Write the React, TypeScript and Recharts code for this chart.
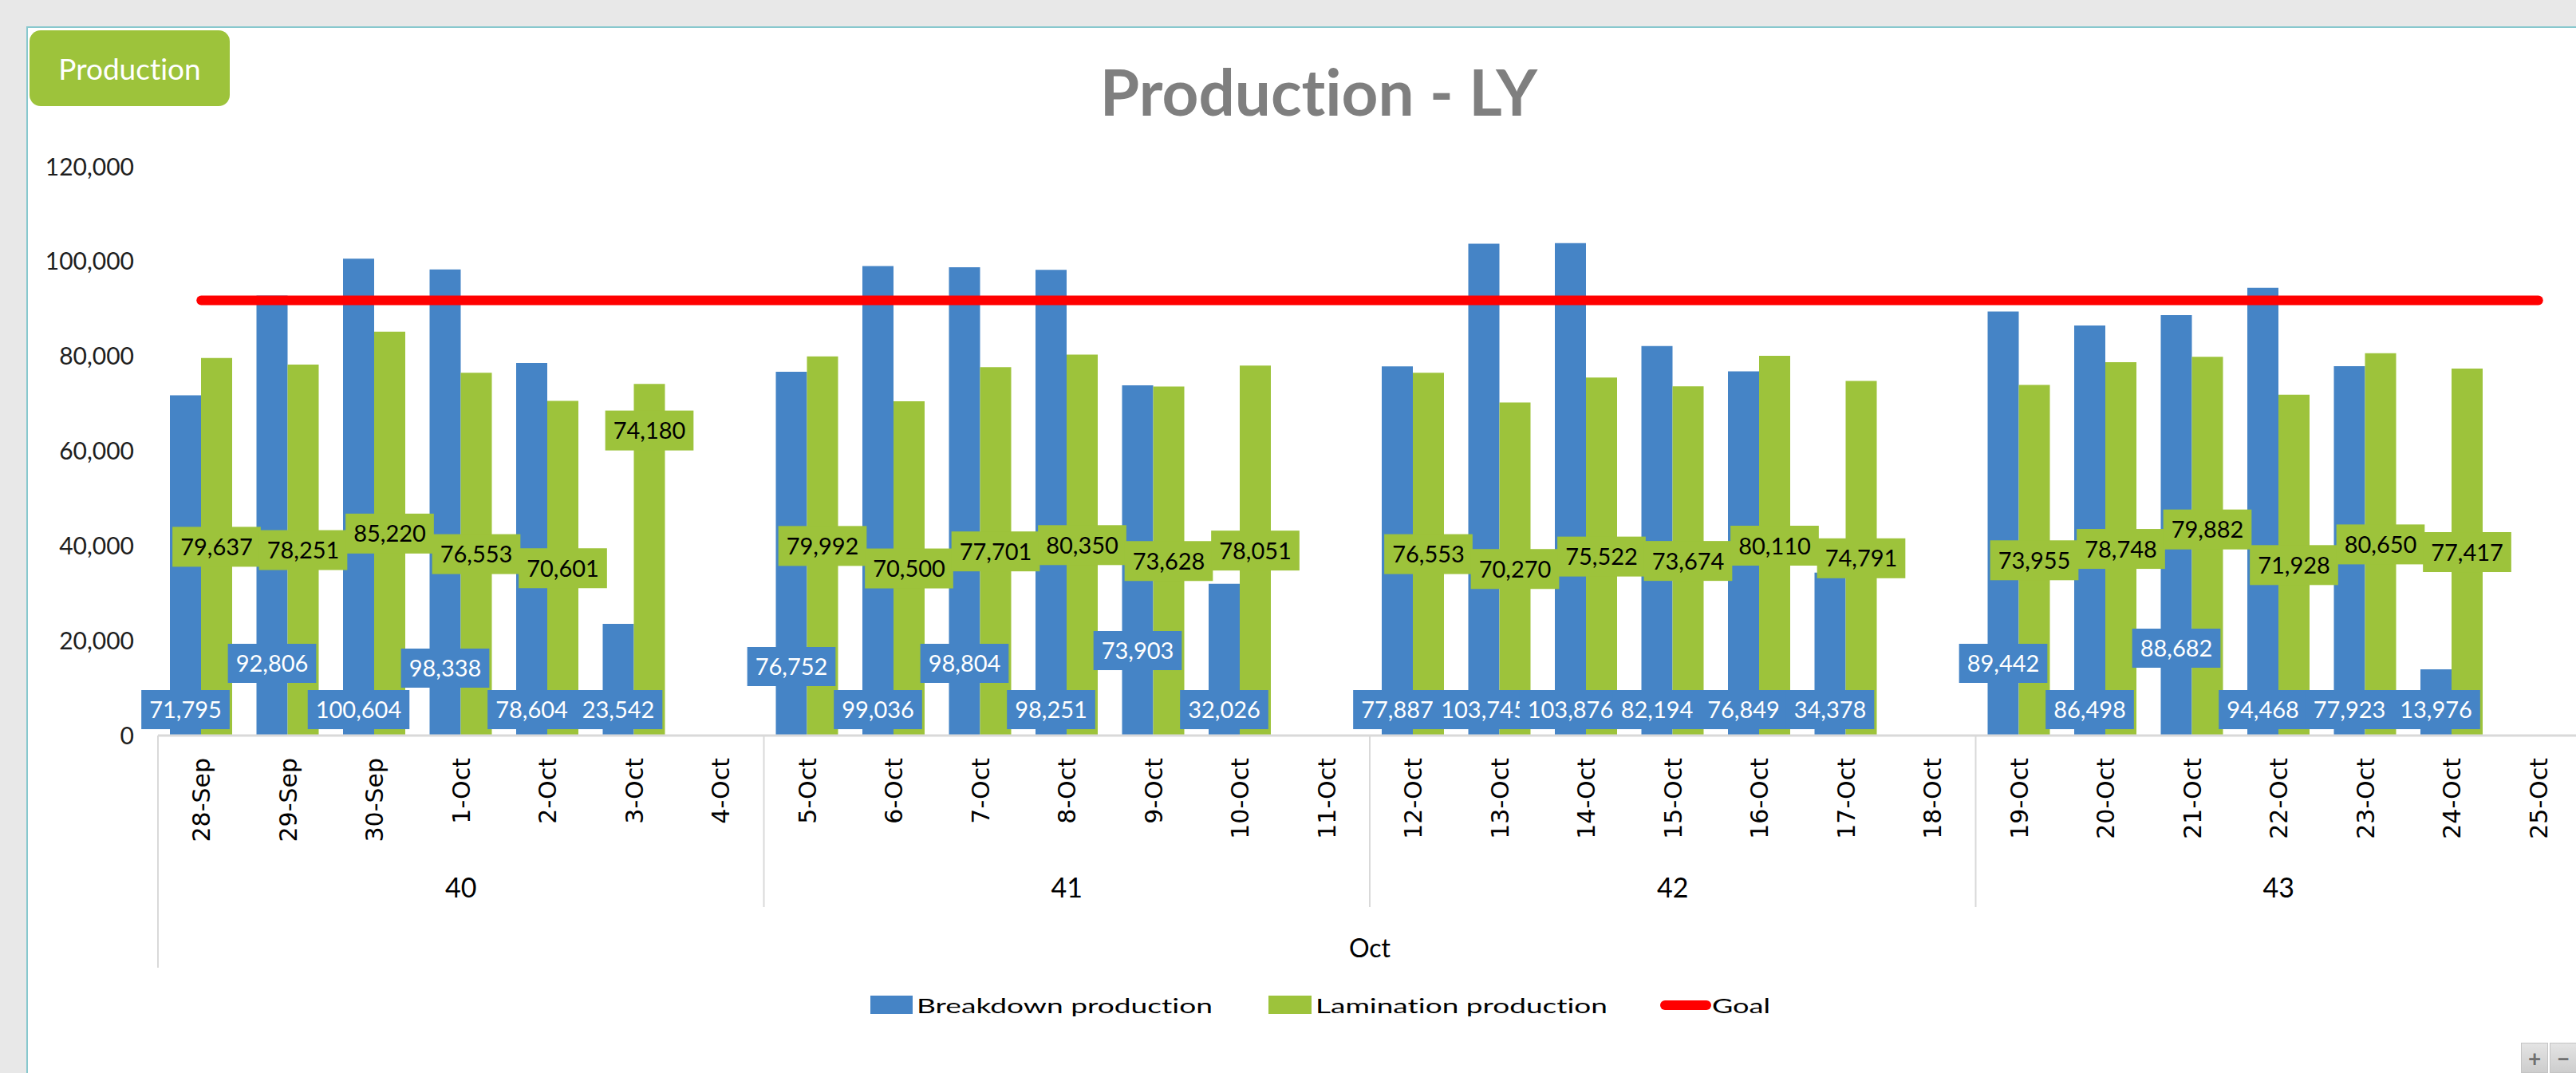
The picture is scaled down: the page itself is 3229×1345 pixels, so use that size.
import { ComposedChart, Bar, Line, XAxis, YAxis, Legend, LabelList } from 'recharts';

const days = [
  '28-Sep', '29-Sep', '30-Sep', '1-Oct', '2-Oct', '3-Oct', '4-Oct',
  '5-Oct', '6-Oct', '7-Oct', '8-Oct', '9-Oct', '10-Oct', '11-Oct',
  '12-Oct', '13-Oct', '14-Oct', '15-Oct', '16-Oct', '17-Oct', '18-Oct',
  '19-Oct', '20-Oct', '21-Oct', '22-Oct', '23-Oct', '24-Oct', '25-Oct',
];
const weeks = ['40', '41', '42', '43'];

const breakdown = [
  71795, 92806, 100604, 98338, 78604, 23542, null,
  76752, 99036, 98804, 98251, 73903, 32026, null,
  77887, 103745, 103876, 82194, 76849, 34378, null,
  89442, 86498, 88682, 94468, 77923, 13976, null,
];
const lamination = [
  79637, 78251, 85220, 76553, 70601, 74180, null,
  79992, 70500, 77701, 80350, 73628, 78051, null,
  76553, 70270, 75522, 73674, 80110, 74791, null,
  73955, 78748, 79882, 71928, 80650, 77417, null,
];
const GOAL = 91800;
const yTicks = [0, 20000, 40000, 60000, 80000, 100000, 120000];

// manual label nudges (px) as placed in the original workbook
const breakdownLabelLift = [0, 58, 0, 52, 0, 0, 0, 54, 0, 58, 0, 74, 0, 0, 0, 0, 0, 0, 0, 0, 0, 58, 0, 77, 0, 0, 0, 0];
const laminationLabelLift = [0, 0, 0, 0, 0, 162, 0, 0, 0, 0, 0, 0, 0, 0, 0, 0, 0, 0, 0, 0, 0, 0, 0, 21, 0, 0, 0, 0];

const rows = days.map((day, i) => ({
  day,
  week: weeks[Math.floor(i / 7)],
  breakdown: breakdown[i],
  lamination: lamination[i],
  goal: GOAL,
}));

const BLUE = '#4584c6';
const GREEN = '#9dc33b';
const RED = '#ff0000';
const FONT = 'Lato, "Open Sans", sans-serif';
const PLOT_LEFT = 198;
const BAND = 3038 / days.length;

let ctx: CanvasRenderingContext2D | null = null;
function textWidth(s: string, font: string) {
  if (!ctx) ctx = document.createElement('canvas').getContext('2d');
  if (!ctx) return s.length * 15;
  ctx.font = font;
  return ctx.measureText(s).width;
}

const fmt = (v: number) => v.toLocaleString('en-US');

// LabelList skips empty bars, so work out the category from the bar position
const bandIndex = (cx: number) => Math.floor((cx - PLOT_LEFT) / BAND);

function BreakdownLabel(props: any) {
  const { value } = props;
  if (value == null) return null;
  const vb = props.viewBox || props;
  const cx = vb.x + vb.width / 2;
  const i = bandIndex(cx);
  const txt = fmt(value);
  const w = textWidth(txt, `29px Lato`) + 20;
  const h = 49;
  const bottom = vb.y + vb.height - 8 - (breakdownLabelLift[i] || 0);
  return (
    <g>
      <rect x={cx - w / 2} y={bottom - h} width={w} height={h} fill={BLUE} />
      <text x={cx} y={bottom - h / 2 + 10.5} textAnchor="middle" fontSize={29} fontFamily={FONT} fill="#fff">
        {txt}
      </text>
    </g>
  );
}

function LaminationLabel(props: any) {
  const { value } = props;
  if (value == null) return null;
  const vb = props.viewBox || props;
  const cx = vb.x + vb.width / 2;
  const i = bandIndex(cx);
  const txt = fmt(value);
  const w = textWidth(txt, `29px Lato`) + 20;
  const h = 50;
  const cy = vb.y + vb.height / 2 - (laminationLabelLift[i] || 0);
  return (
    <g>
      <rect x={cx - w / 2} y={cy - h / 2} width={w} height={h} fill={GREEN} />
      <text x={cx} y={cy + 10.5} textAnchor="middle" fontSize={29} fontFamily={FONT} fill="#000">
        {txt}
      </text>
    </g>
  );
}

function DayTick(props: any) {
  const { x, y, payload } = props;
  const i = payload.index ?? props.index;
  const half = payload.offset || BAND / 2;
  return (
    <g>
      <text
        transform={`translate(${x},${y + 28}) rotate(-90)`}
        textAnchor="end"
        dy="0.36em"
        fontSize={30}
        fontFamily='"DejaVu Sans", sans-serif'
        fill="#000"
      >
        {payload.value}
      </text>
      {i % 7 === 0 && (
        <line x1={x - half} y1={y} x2={x - half} y2={y + (i === 0 ? 291 : 215)} stroke="#d9d9d9" strokeWidth={2} />
      )}
      {i % 7 === 3 && (
        <text x={x} y={y + 203} textAnchor="middle" fontSize={34} fontFamily={FONT} fill="#000">
          {weeks[Math.floor(i / 7)]}
        </text>
      )}
    </g>
  );
}

function ChartLegend() {
  const txt = { fontSize: 25.5, fontFamily: FONT, fill: '#000' };
  return (
    <svg width={3236} height={64} style={{ display: 'block' }}>
      <rect x={1091} y={22} width={53} height={23} fill={BLUE} />
      <text x={1149} y={44} textLength={371} lengthAdjust="spacingAndGlyphs" {...txt}>Breakdown production</text>
      <rect x={1590} y={22} width={54} height={23} fill={GREEN} />
      <text x={1649} y={44} textLength={366} lengthAdjust="spacingAndGlyphs" {...txt}>Lamination production</text>
      <line x1={2087} y1={34} x2={2139} y2={34} stroke={RED} strokeWidth={12} strokeLinecap="round" />
      <text x={2146} y={44} textLength={73} lengthAdjust="spacingAndGlyphs" {...txt}>Goal</text>
    </svg>
  );
}

export default function App() {
  return (
    <div
      style={{
        position: 'fixed',
        left: 0,
        top: 0,
        width: 3229,
        height: 1345,
        overflow: 'hidden',
        background: '#e8e8e8',
        fontFamily: FONT,
        fontVariantLigatures: 'none',
      }}
    >
      <div
        style={{
          position: 'absolute',
          left: 33,
          top: 33,
          width: 3400,
          height: 1400,
          background: '#fff',
          borderLeft: '2px solid #88c8ce',
          borderTop: '2px solid #88c8ce',
        }}
      />
      <div style={{ position: 'absolute', left: 0, top: 0 }}>
        <ComposedChart
          width={3400}
          height={1345}
          data={rows}
          margin={{ top: 209, right: 164, left: 0, bottom: 55 }}
          barSize={39}
          barGap={0}
        >
          <XAxis
            dataKey="day"
            interval={0}
            height={304}
            tickSize={0}
            tickMargin={0}
            tickLine={false}
            axisLine={{ stroke: '#d9d9d9', strokeWidth: 3 }}
            tick={<DayTick />}
            label={{ value: 'Oct', position: 'insideBottom', offset: 26, fontSize: 32, fontFamily: FONT, fill: '#000' }}
          />
          <XAxis xAxisId="lbl" dataKey="day" hide />
          <YAxis
            width={198}
            domain={[0, 120000]}
            ticks={yTicks}
            tickFormatter={fmt}
            tickSize={0}
            tickMargin={30}
            axisLine={false}
            tickLine={false}
            tick={{ fontSize: 30, fontFamily: FONT, fill: '#1e1e1e' }}
          />
          <Legend
            verticalAlign="bottom"
            content={() => <ChartLegend />}
            wrapperStyle={{ left: 0, bottom: 55, width: 3236, height: 64 }}
          />
          <Bar dataKey="breakdown" name="Breakdown production" fill={BLUE} isAnimationActive={false} />
          <Bar dataKey="lamination" name="Lamination production" fill={GREEN} isAnimationActive={false} />
          <Bar xAxisId="lbl" dataKey="breakdown" fill="transparent" legendType="none" isAnimationActive={false}>
            <LabelList dataKey="breakdown" content={<BreakdownLabel />} />
          </Bar>
          <Bar xAxisId="lbl" dataKey="lamination" fill="transparent" legendType="none" isAnimationActive={false}>
            <LabelList dataKey="lamination" content={<LaminationLabel />} />
          </Bar>
          <Line
            dataKey="goal"
            name="Goal"
            stroke={RED}
            strokeWidth={12}
            strokeLinecap="round"
            dot={false}
            activeDot={false}
            isAnimationActive={false}
          />
        </ComposedChart>
      </div>
      <div
        style={{
          position: 'absolute',
          left: 37,
          top: 38,
          width: 251,
          height: 95,
          borderRadius: 14,
          background: GREEN,
          color: '#fff',
          fontSize: 37,
          display: 'flex',
          alignItems: 'center',
          justifyContent: 'center',
        }}
      >
        Production
      </div>
      <div
        style={{
          position: 'absolute',
          left: 0,
          top: 74,
          width: 3306,
          textAlign: 'center',
          fontSize: 80,
          lineHeight: '80px',
          fontWeight: 700,
          color: '#7f7f7f',
        }}
      >
        Production - LY
      </div>
      <div style={{ position: 'absolute', left: 3160, top: 1307, display: 'flex', gap: 2 }}>
        {['+', '\u2212'].map((s) => (
          <div
            key={s}
            style={{
              width: 32,
              height: 36,
              background: 'linear-gradient(#e4e4e4, #cdcdcd)',
              border: '1px solid #c4c4c4',
              color: '#707070',
              fontSize: 28,
              fontWeight: 700,
              lineHeight: '36px',
              textAlign: 'center',
            }}
          >
            {s}
          </div>
        ))}
      </div>
    </div>
  );
}
